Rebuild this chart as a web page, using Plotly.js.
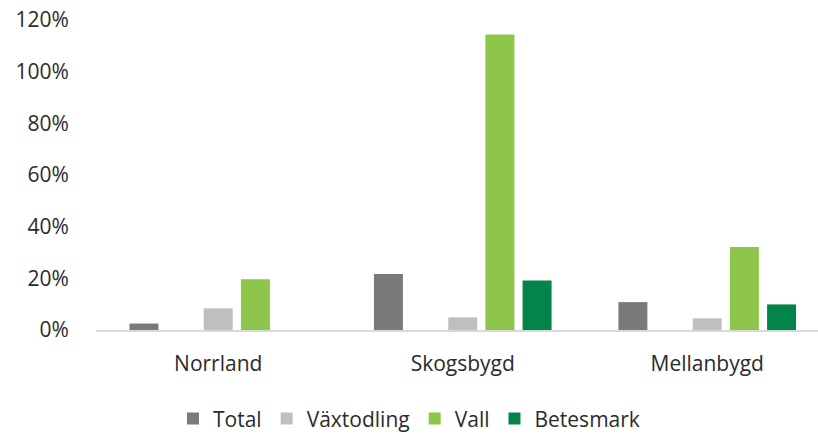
<!DOCTYPE html>
<html>
<head>
<meta charset="utf-8">
<script src="https://cdn.plot.ly/plotly-3.0.1.min.js"></script>
<style>html,body{margin:0;padding:0;background:#fff;}#chart{width:818px;height:434px;}</style>
</head>
<body>
<div id="chart"></div>
<script>
const categories = ["Norrland", "Skogsbygd", "Mellanbygd"];
const seriesNames = ["Total", "", "Växtodling", "Vall", "Betesmark"];
const total = [2.5, 21.7, 10.8];
const hidden = [null, null, null];
const vaxtodling = [8.4, 4.9, 4.5];
const vall = [19.6, 114.4, 32.1];
const betesmark = [null, 19.2, 9.9];
const yTicks = [0, 20, 40, 60, 80, 100, 120];
const yTickText = ["0%", "20%", "40%", "60%", "80%", "100%", "120%"];

const colors = ["#7a7a7a", "rgba(0,0,0,0)", "#bfbfbf", "#8dc64a", "#03844a"];
const allValues = [total, hidden, vaxtodling, vall, betesmark];

const traces = allValues.map((vals, i) => ({
  type: "bar",
  name: seriesNames[i],
  x: categories,
  y: vals,
  marker: {color: colors[i]},
  showlegend: seriesNames[i] !== "",
  hoverinfo: "skip"
}));

const font = {family: "'Open Sans', Lato, sans-serif", size: 21, color: "#2b2b2b"};

const layout = {
  width: 818, height: 434,
  margin: {l: 96, r: 0, t: 20, b: 104},
  paper_bgcolor: "#ffffff",
  plot_bgcolor: "#ffffff",
  font: font,
  barmode: "group",
  bargap: 0.24,
  bargroupgap: 0.22,
  xaxis: {
    type: "category",
    range: [-0.5, 2.453],
    showline: true, linecolor: "#d9d9d9", linewidth: 1.5,
    showgrid: false, zeroline: false,
    ticks: "outside", ticklen: 14, tickcolor: "rgba(0,0,0,0)",
    tickfont: font
  },
  yaxis: {
    range: [0, 120],
    tickvals: yTicks, ticktext: yTickText,
    showgrid: false, zeroline: false, showline: false,
    ticks: "outside", ticklen: 22, tickcolor: "rgba(0,0,0,0)",
    tickfont: font
  },
  legend: {
    orientation: "h",
    xref: "container", yref: "container",
    x: 0.5, xanchor: "center",
    y: 0.035, yanchor: "middle",
    font: font,
    itemwidth: 20,
    traceorder: "normal"
  }
};

Plotly.newPlot("chart", traces, layout, {staticPlot: true});
</script>
</body>
</html>
